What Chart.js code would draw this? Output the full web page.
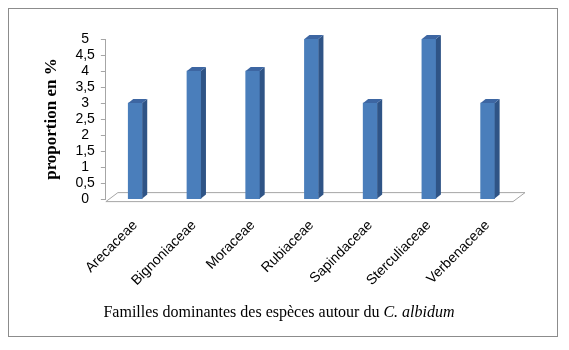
<!DOCTYPE html>
<html>
<head>
<meta charset="utf-8">
<script src="https://cdn.jsdelivr.net/npm/chart.js@4"></script>
<style>
  html, body { margin: 0; padding: 0; background: #fff; }
  #wrap { position: relative; width: 569px; height: 350px; }
</style>
</head>
<body>
<div id="wrap"><canvas id="canvas1"></canvas></div>
<script>
const familles = ["Arecaceae", "Bignoniaceae", "Moraceae", "Rubiaceae", "Sapindaceae", "Sterculiaceae", "Verbenaceae"];
const proportions = [3, 4, 4, 5, 3, 5, 3];
const yTicks = [0, 0.5, 1, 1.5, 2, 2.5, 3, 3.5, 4, 4.5, 5];

const colors = {
  front: "#4a7ebb",
  side: "#2f5486",
  top: "#3d66a2",
  floor: "#a6a6a6",
  frame: "#8c8c8c"
};

// fake 3D: floor, side and top faces, frame and x title
const depthPlugin = {
  id: "depth",
  beforeDraw(chart) {
    const ctx = chart.ctx;
    ctx.save();
    ctx.fillStyle = "#fff";
    ctx.fillRect(0, 0, chart.width, chart.height);
    ctx.strokeStyle = colors.frame;
    ctx.lineWidth = 1;
    ctx.strokeRect(8.5, 8.5, 549, 328);
    ctx.restore();
  },
  beforeDatasetsDraw(chart) {
    const ctx = chart.ctx;
    const a = chart.chartArea;
    const y0 = chart.scales.y.getPixelForValue(0);
    ctx.save();
    ctx.strokeStyle = colors.floor;
    ctx.lineWidth = 1;
    ctx.beginPath();
    ctx.moveTo(a.left, y0 + 2.5);
    ctx.lineTo(a.left + 12, y0 - 6.5);
    ctx.lineTo(a.right + 8, y0 - 6.5);
    ctx.lineTo(a.right - 4, y0 + 2.5);
    ctx.closePath();
    ctx.stroke();
    ctx.restore();
  },
  afterDatasetsDraw(chart) {
    const ctx = chart.ctx;
    const dx = 5, dy = 4;
    ctx.save();
    chart.getDatasetMeta(0).data.forEach(bar => {
      const p = bar.getProps(["x", "y", "base", "width"], true);
      const l = p.x - p.width / 2, r = p.x + p.width / 2;
      ctx.fillStyle = colors.side;
      ctx.beginPath();
      ctx.moveTo(r, p.y);
      ctx.lineTo(r + dx, p.y - dy);
      ctx.lineTo(r + dx, p.base - dy);
      ctx.lineTo(r, p.base);
      ctx.closePath();
      ctx.fill();
      ctx.fillStyle = colors.top;
      ctx.beginPath();
      ctx.moveTo(l, p.y);
      ctx.lineTo(l + dx, p.y - dy);
      ctx.lineTo(r + dx, p.y - dy);
      ctx.lineTo(r, p.y);
      ctx.closePath();
      ctx.fill();
    });
    ctx.restore();
  },
  afterDraw(chart) {
    const ctx = chart.ctx;
    const part1 = "Familles dominantes des espèces autour du ";
    const part2 = "C. albidum";
    ctx.save();
    ctx.fillStyle = "#000";
    ctx.textBaseline = "middle";
    ctx.font = "16px 'Liberation Serif'";
    const w1 = ctx.measureText(part1).width;
    ctx.font = "italic 16px 'Liberation Serif'";
    const w2 = ctx.measureText(part2).width;
    const x = 279 - (w1 + w2) / 2;
    const y = 313;
    ctx.font = "16px 'Liberation Serif'";
    ctx.fillText(part1, x, y);
    ctx.font = "italic 16px 'Liberation Serif'";
    ctx.fillText(part2, x + w1, y);
    ctx.restore();
  }
};

const config = {
  type: "bar",
  data: {
    labels: familles,
    datasets: [
      {
        label: "proportion en %",
        data: proportions,
        backgroundColor: colors.front,
        barThickness: 14
      }
    ]
  },
  options: {
    responsive: true,
    maintainAspectRatio: false,
    animation: false,
    layout: {
      padding: { left: 41, top: 39, right: 52, bottom: 43 }
    },
    plugins: {
      legend: { display: false },
      tooltip: { enabled: false }
    },
    scales: {
      x: {
        grid: { display: false, drawTicks: false },
        border: { display: false },
        ticks: {
          minRotation: 45,
          maxRotation: 45,
          padding: 18,
          autoSkip: false,
          color: "#000",
          font: { family: "'Liberation Sans', sans-serif", size: 14 }
        }
      },
      y: {
        min: 0,
        max: 5,
        afterBuildTicks(scale) {
          scale.ticks = yTicks.map(v => ({ value: v }));
        },
        grid: { display: true, drawOnChartArea: false, drawTicks: true, tickLength: 5, color: colors.floor },
        border: { display: true, color: colors.floor },
        ticks: {
          autoSkip: false,
          padding: 6,
          crossAlign: "center",
          color: "#000",
          font: { family: "'Liberation Sans', sans-serif", size: 14 },
          callback: v => String(v).replace(".", ",")
        },
        title: {
          display: true,
          text: "proportion en %",
          color: "#000",
          padding: { top: 0, bottom: 8 },
          font: { family: "'Liberation Serif', serif", size: 17, weight: "bold" }
        }
      }
    }
  },
  plugins: [depthPlugin]
};

window.onload = function() {
  const ctx1 = document.getElementById("canvas1").getContext("2d");
  new Chart(ctx1, config);
};
</script>
</body>
</html>
